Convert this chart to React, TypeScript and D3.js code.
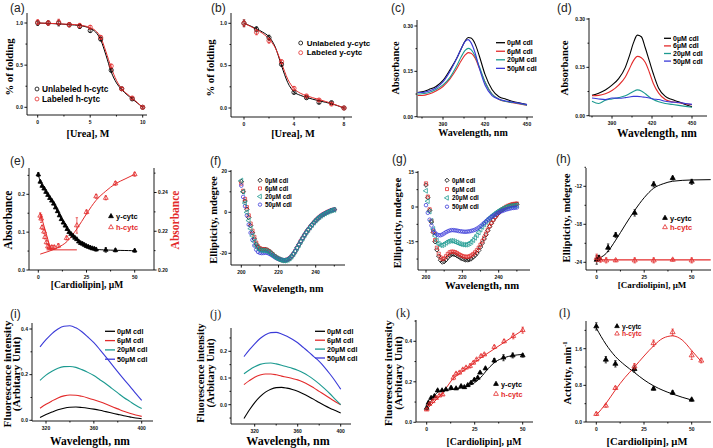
import React from 'react';
import * as d3 from 'd3';

const RED = '#e32b2b';
const TEAL = '#1c9a90';
const BLUE = '#3a3ad8';
const BLK = '#000000';
const SERIF = "'Liberation Serif','Times New Roman',serif";
const SANS = "'Liberation Sans',Arial,sans-serif";

// ---------- (a) h-cytc urea denaturation
const ureaA = [0, 1, 2, 3, 4, 5, 6, 7, 8, 9, 10];
const unlabeledHcytc = [1.0, 1.0, 1.0, 0.98, 0.96, 0.91, 0.81, 0.44, 0.22, 0.1, 0.0];
const labeledHcytc = [1.01, 1.0, 1.01, 0.98, 0.97, 0.95, 0.83, 0.49, 0.22, 0.11, 0.0];
const errA = [0.03, 0.025, 0.035, 0.025, 0.025, 0.02, 0.02, 0.02, 0.015, 0.015, 0.01];
const fitUreaA = [0, 1, 2, 3, 4, 5, 5.5, 6, 6.5, 7, 7.5, 8, 8.5, 9, 9.5, 10];
const fitUnlabeledA = [1.0, 0.995, 0.99, 0.98, 0.97, 0.935, 0.895, 0.8, 0.62, 0.42, 0.29, 0.21, 0.15, 0.1, 0.05, 0.0];
const fitLabeledA = [1.0, 0.997, 0.99, 0.985, 0.975, 0.945, 0.91, 0.83, 0.66, 0.47, 0.32, 0.22, 0.16, 0.11, 0.055, 0.0];

// ---------- (b) y-cytc urea denaturation
const ureaB = [0, 1, 2, 3, 4, 5, 6, 7, 8];
const unlabeledYcytc = [1.0, 0.93, 0.83, 0.516, 0.185, 0.122, 0.067, 0.063, 0.0];
const labeledYcytc = [1.0, 0.894, 0.795, 0.547, 0.232, 0.142, 0.094, 0.047, 0.0];
const errB = [0.04, 0.03, 0.03, 0.02, 0.02, 0.015, 0.015, 0.015, 0.01];
const fitUreaB = [0, 0.5, 1, 1.5, 2, 2.5, 3, 3.5, 4, 4.5, 5, 6, 7, 8];
const fitUnlabeledB = [1.0, 0.97, 0.935, 0.895, 0.84, 0.72, 0.5, 0.3, 0.19, 0.15, 0.125, 0.085, 0.05, 0.0];
const fitLabeledB = [1.0, 0.965, 0.925, 0.88, 0.815, 0.71, 0.53, 0.34, 0.23, 0.175, 0.145, 0.1, 0.055, 0.0];

// ---------- (c) Soret absorbance, y-cytc
const wlC = [372, 375, 380, 385, 390, 395, 400, 403, 406, 408, 410, 413, 416, 420, 425, 430, 435, 440, 445, 450];
const absC0 = [0.08, 0.082, 0.09, 0.1, 0.12, 0.155, 0.195, 0.225, 0.252, 0.262, 0.26, 0.24, 0.2, 0.14, 0.09, 0.066, 0.058, 0.05, 0.045, 0.04];
const absC6 = [0.07, 0.07, 0.075, 0.085, 0.1, 0.125, 0.16, 0.185, 0.205, 0.212, 0.21, 0.193, 0.16, 0.115, 0.075, 0.057, 0.05, 0.046, 0.042, 0.038];
const absC20 = [0.075, 0.076, 0.08, 0.09, 0.105, 0.13, 0.17, 0.198, 0.22, 0.226, 0.222, 0.2, 0.165, 0.115, 0.075, 0.058, 0.05, 0.047, 0.043, 0.038];
const absC50 = [0.08, 0.08, 0.085, 0.095, 0.115, 0.15, 0.195, 0.225, 0.25, 0.255, 0.245, 0.21, 0.16, 0.105, 0.07, 0.058, 0.052, 0.048, 0.044, 0.04];

// ---------- (d) Soret absorbance, h-cytc
const wlD = [375, 380, 385, 390, 395, 400, 403, 406, 409, 412, 415, 418, 421, 425, 430, 435, 440, 445, 450];
const absD0 = [0.063, 0.07, 0.08, 0.095, 0.115, 0.15, 0.185, 0.225, 0.25, 0.245, 0.21, 0.17, 0.13, 0.085, 0.06, 0.05, 0.043, 0.035, 0.028];
const absD6 = [0.062, 0.063, 0.068, 0.078, 0.095, 0.12, 0.145, 0.17, 0.184, 0.18, 0.165, 0.135, 0.1, 0.07, 0.05, 0.043, 0.04, 0.037, 0.034];
const absD20 = [0.045, 0.038, 0.048, 0.052, 0.056, 0.062, 0.068, 0.075, 0.08, 0.077, 0.068, 0.058, 0.05, 0.043, 0.038, 0.035, 0.032, 0.029, 0.026];
const absD50 = [0.055, 0.052, 0.05, 0.055, 0.054, 0.056, 0.058, 0.06, 0.06, 0.059, 0.057, 0.055, 0.052, 0.05, 0.045, 0.042, 0.041, 0.038, 0.035];

// ---------- (e) absorbance vs cardiolipin
const concYE = [0, 1, 2, 3, 4, 5, 6, 7, 8, 9, 10, 11, 12, 13, 14, 15, 16, 17, 18, 19, 20, 21, 22, 23, 24, 25, 26, 27, 28, 29, 30, 35, 40, 50];
const absYE = [0.252, 0.233, 0.222, 0.215, 0.206, 0.198, 0.19, 0.183, 0.175, 0.165, 0.155, 0.144, 0.134, 0.125, 0.117, 0.108, 0.1, 0.095, 0.09, 0.085, 0.081, 0.075, 0.071, 0.069, 0.066, 0.063, 0.061, 0.059, 0.057, 0.056, 0.054, 0.053, 0.052, 0.051];
const errYE = [0.005, 0.003, 0.003, 0.003, 0.003, 0.003, 0.003, 0.003, 0.003, 0.003, 0.003, 0.003, 0.003, 0.003, 0.003, 0.003, 0.003, 0.003, 0.003, 0.003, 0.003, 0.003, 0.003, 0.003, 0.003, 0.003, 0.003, 0.003, 0.003, 0.003, 0.004, 0.006, 0.004, 0.004];
const concHE = [1, 1.5, 2, 3, 3.5, 4.3, 5, 5.7, 7, 8.3, 10.4, 14.7, 20, 25, 30, 35, 40, 50];
const absHE = [0.228, 0.2265, 0.222, 0.2198, 0.217, 0.2143, 0.2122, 0.2117, 0.2117, 0.2117, 0.2125, 0.2165, 0.223, 0.2299, 0.238, 0.2372, 0.2447, 0.2494];
const errHE = [0.0015, 0.002, 0.001, 0.001, 0.001, 0.001, 0.001, 0.001, 0.001, 0.001, 0.001, 0.001, 0.004, 0.001, 0.001, 0.001, 0.001, 0.001];
const dropLineX = [1, 6.5];
const dropLineY = [0.2295, 0.2104];
const flatLineX = [4.3, 20];
const flatLineY = [0.2104, 0.2104];
const fitHEx = [1, 5, 10, 15, 20, 25, 30, 35, 40, 45, 50];
const fitHEy = [0.2082, 0.2095, 0.2115, 0.2148, 0.2212, 0.229, 0.236, 0.2407, 0.2445, 0.247, 0.2494];

// ---------- (f) far-UV CD, y-cytc (200..250 nm, 1 nm)
const wlF = d3.range(200, 251);
const cdF0 = [15, 10, 5.5, 1.5, -2.5, -6.5, -10, -13, -15.5, -17, -17.8, -18.1, -18.1, -18.1, -18.4, -19, -19.8, -20.6, -21.4, -22.1, -22.6, -23, -23.3, -23.4, -23.3, -23, -22.4, -21.5, -20.3, -18.9, -17.3, -15.7, -14.1, -12.6, -11.1, -9.7, -8.4, -7.2, -6.1, -5, -4, -3.1, -2.3, -1.6, -1, -0.5, 0, 0.4, 0.8, 1.1, 1.3];
const cdF6 = [14, 10.5, 6.5, 2.5, -1.5, -5.5, -9, -12, -14.8, -16.6, -17.5, -17.9, -18, -18.1, -18.4, -19, -19.8, -20.6, -21.4, -22.1, -22.6, -23, -23.3, -23.4, -23.3, -23, -22.4, -21.5, -20.3, -18.9, -17.3, -15.7, -14.1, -12.6, -11.1, -9.7, -8.4, -7.2, -6.1, -5, -4, -3.1, -2.3, -1.6, -1, -0.5, 0, 0.4, 0.8, 1.1, 1.3];
const cdF20 = [15.5, 10, 4.5, 0, -4, -8, -11.5, -14.3, -16.3, -17.6, -18.3, -18.6, -18.6, -18.7, -19, -19.5, -20.2, -21, -21.7, -22.3, -22.8, -23.2, -23.5, -23.6, -23.5, -23.2, -22.6, -21.7, -20.5, -19.1, -17.5, -15.9, -14.3, -12.8, -11.3, -9.9, -8.6, -7.4, -6.2, -5.1, -4.1, -3.2, -2.4, -1.7, -1.1, -0.6, -0.1, 0.3, 0.7, 1.0, 1.2];
const cdF50 = [13, 7.5, 3, -1.5, -6, -10, -13.5, -16.2, -18.2, -19.3, -19.8, -19.9, -19.8, -19.7, -19.8, -20.2, -20.7, -21.3, -21.9, -22.4, -22.8, -23.1, -23.3, -23.4, -23.3, -23, -22.4, -21.5, -20.3, -18.9, -17.3, -15.7, -14.1, -12.6, -11.1, -9.7, -8.4, -7.2, -6.1, -5, -4, -3.1, -2.3, -1.6, -1, -0.5, 0, 0.4, 0.8, 1.1, 1.3];

// ---------- (g) far-UV CD, h-cytc
const wlG = d3.range(200, 251);
const cdG0 = [9.5, 4, -1.5, -6.5, -11, -15, -18.5, -21.2, -23, -23.8, -23.6, -22.8, -21.8, -21, -20.5, -20.4, -20.6, -21, -21.5, -22, -22.4, -22.7, -22.9, -22.9, -22.7, -22.3, -21.6, -20.9, -20, -18.8, -17.3, -15.6, -13.8, -12, -10.2, -8.5, -7, -5.6, -4.4, -3.4, -2.5, -1.8, -1.2, -0.7, -0.2, 0.2, 0.5, 0.8, 1.0, 1.1, 1.2];
const cdG6 = [10.2, 4.5, -1, -6, -10.5, -14.3, -17.6, -20.2, -21.8, -22.5, -22.2, -21.3, -20.3, -19.6, -19.3, -19.3, -19.5, -19.9, -20.4, -20.8, -21.2, -21.4, -21.5, -21.5, -21.3, -20.9, -20.3, -19.6, -18.7, -17.6, -16.3, -14.8, -13.2, -11.5, -9.8, -8.2, -6.8, -5.5, -4.3, -3.3, -2.4, -1.6, -1, -0.4, 0.1, 0.5, 0.8, 1.1, 1.3, 1.4, 1.5];
const cdG20 = [7, 2.5, -2, -6, -9.5, -12.5, -14.6, -15.9, -16.5, -16.5, -16.1, -15.5, -15, -14.7, -14.6, -14.7, -15, -15.3, -15.7, -16, -16.2, -16.3, -16.3, -16.1, -15.7, -15.1, -14.3, -13.3, -12.2, -11, -9.8, -8.6, -7.5, -6.5, -5.6, -4.8, -4.1, -3.4, -2.8, -2.2, -1.7, -1.2, -0.8, -0.4, -0.1, 0.2, 0.4, 0.5, 0.6, 0.7, 0.7];
const cdG50 = [0.8, -2.5, -5.5, -8, -10, -11.2, -11.9, -12.2, -12.2, -11.9, -11.4, -10.9, -10.5, -10.2, -10, -10, -10.1, -10.2, -10.4, -10.5, -10.6, -10.7, -10.7, -10.6, -10.5, -10.3, -10.1, -9.8, -9.4, -8.9, -8.3, -7.6, -6.9, -6.2, -5.5, -4.9, -4.3, -3.8, -3.3, -2.8, -2.4, -2, -1.7, -1.4, -1.1, -0.9, -0.7, -0.5, -0.4, -0.3, -0.2];

// ---------- (h) ellipticity at 222 nm vs cardiolipin
const concYH = [0, 1.2, 6, 10, 20, 30, 40, 50];
const ellYH = [-23.6, -23.3, -21.7, -19.7, -16.2, -11.7, -10.7, -11.3];
const errYH = [0.7, 0.4, 0.6, 0.4, 0.5, 0.4, 0.3, 0.4];
const concHH = [0, 2, 5, 10, 20, 30, 40, 50];
const ellHH = [-23.3, -23.6, -23.7, -23.7, -23.7, -23.7, -23.6, -23.7];
const errHH = [0.6, 0.4, 0.4, 0.2, 0.4, 0.4, 0.2, 0.4];
const fitYHx = [0, 5, 10, 15, 20, 25, 30, 35, 40, 50, 60];
const fitYHy = [-23.5, -22.6, -20.5, -18.1, -15.8, -13.8, -12.3, -11.6, -11.2, -11.0, -10.95];
const fitHHx = [0, 60];
const fitHHy = [-23.62, -23.62];

// ---------- (i) Trp fluorescence, y-cytc
const wlI = [315, 320, 325, 330, 335, 340, 345, 350, 355, 360, 365, 370, 375, 380, 385, 390, 395, 400];
const flI0 = [0.012, 0.025, 0.036, 0.046, 0.053, 0.057, 0.058, 0.056, 0.053, 0.049, 0.044, 0.038, 0.032, 0.026, 0.02, 0.015, 0.01, 0.007];
const flI6 = [0.053, 0.07, 0.085, 0.098, 0.107, 0.111, 0.11, 0.105, 0.098, 0.09, 0.081, 0.071, 0.06, 0.05, 0.04, 0.031, 0.023, 0.017];
const flI20 = [0.175, 0.198, 0.215, 0.228, 0.235, 0.236, 0.232, 0.222, 0.21, 0.196, 0.178, 0.16, 0.14, 0.12, 0.1, 0.083, 0.066, 0.052];
const flI50 = [0.322, 0.353, 0.38, 0.4, 0.412, 0.414, 0.405, 0.388, 0.365, 0.34, 0.31, 0.278, 0.245, 0.212, 0.18, 0.15, 0.118, 0.087];

// ---------- (j) Trp fluorescence, h-cytc
const wlJ = [310, 315, 320, 325, 330, 335, 340, 345, 350, 355, 360, 365, 370, 375, 380, 385, 390, 395, 400];
const flJ0 = [-0.052, -0.02, 0.008, 0.03, 0.047, 0.058, 0.064, 0.065, 0.062, 0.057, 0.05, 0.041, 0.031, 0.02, 0.008, -0.003, -0.013, -0.022, -0.031];
const flJ6 = [0.075, 0.09, 0.103, 0.111, 0.115, 0.115, 0.112, 0.107, 0.103, 0.098, 0.093, 0.085, 0.075, 0.063, 0.05, 0.037, 0.024, 0.011, 0.0];
const flJ20 = [0.116, 0.13, 0.142, 0.151, 0.155, 0.156, 0.153, 0.148, 0.142, 0.136, 0.129, 0.12, 0.108, 0.094, 0.078, 0.06, 0.041, 0.02, 0.0];
const flJ50 = [0.18, 0.205, 0.228, 0.248, 0.262, 0.27, 0.271, 0.265, 0.256, 0.245, 0.232, 0.215, 0.198, 0.18, 0.162, 0.14, 0.115, 0.088, 0.058];

// ---------- (k) fluorescence vs cardiolipin
const concYK = [0, 0.9, 2.3, 4, 5.7, 8, 10, 12.7, 15.3, 17.9, 19.6, 21.4, 23.1, 24.8, 26.6, 27.8, 30.6, 35.2, 40, 44.8, 50];
const fluYK = [0.071, 0.096, 0.12, 0.129, 0.157, 0.157, 0.162, 0.17, 0.167, 0.178, 0.173, 0.183, 0.195, 0.21, 0.22, 0.245, 0.266, 0.305, 0.319, 0.33, 0.33];
const errYK = [0.01, 0.008, 0.005, 0.005, 0.005, 0.005, 0.005, 0.005, 0.005, 0.005, 0.005, 0.005, 0.005, 0.005, 0.005, 0.005, 0.006, 0.01, 0.015, 0.012, 0.008];
const concHK = [0, 1.4, 3.1, 4.9, 6.6, 8.3, 13.9, 15.3, 17, 18.8, 20.5, 22.6, 24.3, 26, 28.3, 30, 35.2, 40.3, 45.1, 50];
const fluHK = [0.063, 0.09, 0.104, 0.12, 0.132, 0.137, 0.22, 0.24, 0.245, 0.26, 0.27, 0.278, 0.294, 0.31, 0.327, 0.335, 0.372, 0.4, 0.426, 0.455];
const errHK = [0.005, 0.005, 0.005, 0.005, 0.005, 0.005, 0.01, 0.006, 0.006, 0.006, 0.006, 0.01, 0.006, 0.006, 0.006, 0.006, 0.008, 0.008, 0.014, 0.015];
const fitYKx = [0, 2, 4, 6, 8, 12, 16, 20, 24, 28, 32, 36, 40, 45, 50];
const fitYKy = [0.068, 0.1, 0.13, 0.15, 0.155, 0.16, 0.166, 0.175, 0.19, 0.22, 0.265, 0.3, 0.318, 0.33, 0.335];
const fitHKx = [0, 8, 13.5, 30, 50];
const fitHKy = [0.064, 0.14, 0.215, 0.33, 0.455];

// ---------- (l) peroxidase activity vs cardiolipin
const concYL = [0, 5, 10, 20, 30, 40, 50];
const actYL = [2.087, 1.36, 1.27, 1.156, 0.727, 0.64, 0.487];
const errYL = [0.08, 0.07, 0.07, 0.07, 0.03, 0.04, 0.03];
const concHL = [0, 5, 10, 20, 30, 40, 50, 55];
const actHL = [0.175, 0.356, 0.742, 1.215, 1.72, 1.96, 1.455, 1.34];
const errHL = [0.03, 0.03, 0.03, 0.06, 0.07, 0.07, 0.09, 0.05];
const fitYLx = [0, 5, 10, 15, 20, 25, 30, 35, 40, 45, 50];
const fitYLy = [2.05, 1.7, 1.43, 1.24, 1.08, 0.92, 0.79, 0.69, 0.61, 0.54, 0.48];
const fitHLx = [0, 5, 10, 15, 20, 25, 30, 35, 40, 45, 50, 55];
const fitHLy = [0.15, 0.4, 0.7, 0.97, 1.2, 1.44, 1.66, 1.83, 1.88, 1.79, 1.56, 1.32];

const cdlLabels = ['0\u00b5M cdl', '6\u00b5M cdl', '20\u00b5M cdl', '50\u00b5M cdl'];
const cdlColors = [BLK, RED, TEAL, BLUE];

// ---------------------------------------------------------------- helpers
type Ax = { px: [number, number]; v: [number, number]; at: [number, number]; ticks: number[]; minor: number[]; dec: number };
const sc = (a: Ax) => d3.scaleLinear().domain(a.v).range(a.at);

function Frame({ xa, ya, ya2 }: { xa: Ax; ya: Ax; ya2?: Ax }) {
  const x = sc(xa), y = sc(ya);
  const xl = xa.px[0], xr = xa.px[1], yt = ya.px[0], yb = ya.px[1];
  const st = { stroke: '#000', strokeWidth: 0.9 };
  const tf = { fontSize: 5, fontWeight: 'bold' as const, fontFamily: SANS, fill: '#111' };
  const y2 = ya2 ? sc(ya2) : null;
  return (
    <g>
      <line x1={xl} x2={xr} y1={yb} y2={yb} {...st} />
      <line x1={xl} x2={xl} y1={yt} y2={yb} {...st} />
      {xa.ticks.map(t => <line key={'xt' + t} x1={x(t)} x2={x(t)} y1={yb} y2={yb + 2.6} {...st} />)}
      {xa.minor.map(t => <line key={'xm' + t} x1={x(t)} x2={x(t)} y1={yb} y2={yb + 1.5} {...st} />)}
      {xa.ticks.map(t => <text key={'xl' + t} x={x(t)} y={yb + 8.8} textAnchor="middle" {...tf}>{t.toFixed(xa.dec)}</text>)}
      {ya.ticks.map(t => <line key={'yt' + t} x1={xl - 2.6} x2={xl} y1={y(t)} y2={y(t)} {...st} />)}
      {ya.minor.map(t => <line key={'ym' + t} x1={xl - 1.5} x2={xl} y1={y(t)} y2={y(t)} {...st} />)}
      {ya.ticks.map(t => <text key={'yl' + t} x={xl - 4} y={y(t) + 1.8} textAnchor="end" {...tf}>{t.toFixed(ya.dec)}</text>)}
      {ya2 && y2 && (
        <g>
          <line x1={xr} x2={xr} y1={ya2.px[0]} y2={ya2.px[1]} {...st} />
          {ya2.ticks.map(t => <line key={'y2t' + t} x1={xr} x2={xr + 2.6} y1={y2(t)} y2={y2(t)} {...st} />)}
          {ya2.minor.map(t => <line key={'y2m' + t} x1={xr} x2={xr + 1.5} y1={y2(t)} y2={y2(t)} {...st} />)}
          {ya2.ticks.map(t => <text key={'y2l' + t} x={xr + 4} y={y2(t) + 1.8} textAnchor="start" {...tf}>{t.toFixed(ya2.dec)}</text>)}
        </g>
      )}
    </g>
  );
}

type Shape = 'circle' | 'tri' | 'square' | 'diamond' | 'left';
function symPath(shape: Shape, size: number) {
  const t = shape === 'circle' ? d3.symbolCircle : (shape === 'square' || shape === 'diamond') ? d3.symbolSquare : d3.symbolTriangle;
  return d3.symbol().type(t).size(size)() || '';
}
function Sym({ shape, cx, cy, color, filled, size = 12, sw = 0.8 }: any) {
  const rot = shape === 'diamond' ? 45 : shape === 'left' ? -90 : 0;
  return <path d={symPath(shape, size)} transform={`translate(${cx},${cy}) rotate(${rot})`} fill={filled ? color : 'none'} stroke={color} strokeWidth={sw} />;
}

function Points({ xs, ys, x, y, shape, color, filled, size, sw, err }: any) {
  return (
    <g>
      {xs.map((v: number, i: number) => (
        <g key={i}>
          {err && (
            <g stroke={color} strokeWidth={0.7}>
              <line x1={x(v)} x2={x(v)} y1={y(ys[i] - err[i])} y2={y(ys[i] + err[i])} />
              <line x1={x(v) - 1.2} x2={x(v) + 1.2} y1={y(ys[i] - err[i])} y2={y(ys[i] - err[i])} />
              <line x1={x(v) - 1.2} x2={x(v) + 1.2} y1={y(ys[i] + err[i])} y2={y(ys[i] + err[i])} />
            </g>
          )}
          <Sym shape={shape} cx={x(v)} cy={y(ys[i])} color={color} filled={filled} size={size} sw={sw} />
        </g>
      ))}
    </g>
  );
}

function Curve({ xs, ys, x, y, color, w = 1, curve = d3.curveMonotoneX }: any) {
  const g = d3.line<number>().x((d) => x(d)).y((_, i) => y(ys[i])).curve(curve);
  return <path d={g(xs) || ''} fill="none" stroke={color} strokeWidth={w} />;
}

function XTitle({ x, y, text, fs = 10.5 }: any) {
  return <text x={x} y={y} textAnchor="middle" dominantBaseline="central" fontFamily={SERIF} fontWeight="bold" fontSize={fs}>{text}</text>;
}
function YTitle({ x, y, text, fs = 10.5, color = '#000' }: any) {
  return <text transform={`translate(${x},${y}) rotate(-90)`} textAnchor="middle" dominantBaseline="central" fontFamily={SERIF} fontWeight="bold" fontSize={fs} fill={color}>{text}</text>;
}
function PLabel({ x, y, text, serif = false }: any) {
  return <text x={x} y={y} fontFamily={serif ? SERIF : SANS} fontSize={12} fill="#222">{text}</text>;
}
function LegSym({ x, y, shape, color, filled, text, fs = 7.5, tcolor = '#000', size = 12, gap = 5 }: any) {
  return (
    <g>
      <Sym shape={shape} cx={x} cy={y} color={color} filled={filled} size={size} />
      <text x={x + gap} y={y} dominantBaseline="central" fontFamily={SANS} fontWeight="bold" fontSize={fs} fill={tcolor}>{text}</text>
    </g>
  );
}
function LegLine({ x1, x2, y, color, text, fs = 7 }: any) {
  return (
    <g>
      <line x1={x1} x2={x2} y1={y} y2={y} stroke={color} strokeWidth={1.3} />
      <text x={x2 + 2} y={y} dominantBaseline="central" fontFamily={SANS} fontWeight="bold" fontSize={fs}>{text}</text>
    </g>
  );
}

// ---------------------------------------------------------------- axes
const AXA_X: Ax = { px: [27, 147], v: [0, 10], at: [37.7, 142.7], ticks: [0, 5, 10], minor: [2.5, 7.5], dec: 0 };
const AXA_Y: Ax = { px: [13, 115], v: [0, 1], at: [107.3, 23], ticks: [0, 0.5, 1], minor: [0.25, 0.75], dec: 1 };
const AXB_X: Ax = { px: [231, 352], v: [0, 8], at: [244, 344], ticks: [0, 4, 8], minor: [2, 6], dec: 0 };
const AXB_Y: Ax = { px: [13, 117], v: [0, 1], at: [108, 23.3], ticks: [0, 0.5, 1], minor: [0.25, 0.75], dec: 1 };
const AXC_X: Ax = { px: [417, 533], v: [390, 450], at: [443, 527], ticks: [390, 420, 450], minor: [375, 405, 435], dec: 0 };
const AXC_Y: Ax = { px: [20, 117], v: [0, 0.3], at: [116.7, 26], ticks: [0, 0.15, 0.3], minor: [0.075, 0.225], dec: 2 };
const AXD_X: Ax = { px: [589, 707], v: [390, 450], at: [612, 692], ticks: [390, 420, 450], minor: [375, 405, 435], dec: 0 };
const AXD_Y: Ax = { px: [18, 116], v: [0, 0.3], at: [115.7, 19], ticks: [0, 0.15, 0.3], minor: [0.075, 0.225], dec: 2 };
const AXE_X: Ax = { px: [29, 154], v: [0, 50], at: [38.3, 134.7], ticks: [0, 25, 50], minor: [12.5, 37.5], dec: 0 };
const AXE_Y: Ax = { px: [168, 270], v: [0, 0.2], at: [270, 194.3], ticks: [0, 0.1, 0.2], minor: [0.05, 0.15, 0.25], dec: 1 };
const AXE_Y2: Ax = { px: [168, 270], v: [0.2, 0.24], at: [270, 192.5], ticks: [0.2, 0.22, 0.24], minor: [0.21, 0.23, 0.25], dec: 2 };
const AXF_X: Ax = { px: [231, 345], v: [200, 240], at: [241.3, 315.7], ticks: [200, 220, 240], minor: [210, 230, 250], dec: 0 };
const AXF_Y: Ax = { px: [170, 265], v: [-20, 20], at: [253.3, 171.3], ticks: [-20, 0, 20], minor: [-10, 10], dec: 0 };
const AXG_X: Ax = { px: [418, 530], v: [200, 240], at: [426, 498.7], ticks: [200, 220, 240], minor: [210, 230, 250], dec: 0 };
const AXG_Y: Ax = { px: [171, 270], v: [-15, 15], at: [241.7, 172.3], ticks: [-15, 0, 15], minor: [-22.5, -7.5, 7.5], dec: 0 };
const AXH_X: Ax = { px: [586, 711], v: [0, 50], at: [596.7, 691.7], ticks: [0, 25, 50], minor: [12.5, 37.5], dec: 0 };
const AXH_Y: Ax = { px: [168, 270], v: [-24, -12], at: [262.3, 186.3], ticks: [-24, -18, -12], minor: [-21, -15, -9], dec: 0 };
const AXI_X: Ax = { px: [32, 153], v: [320, 400], at: [46, 141.7], ticks: [320, 360, 400], minor: [340, 380], dec: 0 };
const AXI_Y: Ax = { px: [323, 421], v: [0, 0.4], at: [420.3, 329], ticks: [0, 0.2, 0.4], minor: [0.1, 0.3], dec: 1 };
const AXJ_X: Ax = { px: [231, 351], v: [320, 400], at: [254.7, 340.7], ticks: [320, 360, 400], minor: [340, 380], dec: 0 };
const AXJ_Y: Ax = { px: [328, 424], v: [0, 0.2], at: [404.7, 351.3], ticks: [0, 0.1, 0.2], minor: [-0.05, 0.05, 0.15, 0.25], dec: 1 };
const AXK_X: Ax = { px: [416, 533], v: [0, 50], at: [426.7, 522.7], ticks: [0, 25, 50], minor: [12.5, 37.5], dec: 0 };
const AXK_Y: Ax = { px: [320, 422], v: [0, 0.4], at: [422.3, 341.3], ticks: [0, 0.2, 0.4], minor: [0.1, 0.3, 0.5], dec: 1 };
const AXL_X: Ax = { px: [586, 711], v: [0, 50], at: [596.3, 691.7], ticks: [0, 25, 50], minor: [12.5, 37.5], dec: 0 };
const AXL_Y: Ax = { px: [321, 422], v: [0, 1.6], at: [422, 348.7], ticks: [0, 0.8, 1.6], minor: [0.4, 1.2, 2.0], dec: 1 };

export default function App() {
  const xa = sc(AXA_X), ya = sc(AXA_Y);
  const xb = sc(AXB_X), yb = sc(AXB_Y);
  const xc = sc(AXC_X), yc = sc(AXC_Y);
  const xd = sc(AXD_X), yd = sc(AXD_Y);
  const xe = sc(AXE_X), ye = sc(AXE_Y), ye2 = sc(AXE_Y2);
  const xf = sc(AXF_X), yf = sc(AXF_Y);
  const xg = sc(AXG_X), yg = sc(AXG_Y);
  const xh = sc(AXH_X), yh = sc(AXH_Y);
  const xi = sc(AXI_X), yi = sc(AXI_Y);
  const xj = sc(AXJ_X), yj = sc(AXJ_Y);
  const xk = sc(AXK_X), yk = sc(AXK_Y);
  const xl = sc(AXL_X), yl = sc(AXL_Y);
  const specC = [absC0, absC6, absC20, absC50];
  const specD = [absD0, absD6, absD20, absD50];
  const specI = [flI0, flI6, flI20, flI50];
  const specJ = [flJ0, flJ6, flJ20, flJ50];
  const cdShapes: Shape[] = ['diamond', 'square', 'left', 'circle'];

  return (
    <svg width={713} height={448} style={{ position: 'absolute', left: 0, top: 0, background: '#fff' }}>
      <rect width={713} height={448} fill="#fff" />

      {/* (a) */}
      <PLabel x={10} y={12} text="(a)" />
      <Frame xa={AXA_X} ya={AXA_Y} />
      <Curve xs={fitUreaA} ys={fitUnlabeledA} x={xa} y={ya} color={BLK} />
      <Curve xs={fitUreaA} ys={fitLabeledA} x={xa} y={ya} color={RED} />
      <Points xs={ureaA} ys={unlabeledHcytc} x={xa} y={ya} shape="circle" color={BLK} size={14} err={errA} />
      <Points xs={ureaA} ys={labeledHcytc} x={xa} y={ya} shape="circle" color={RED} size={14} err={errA} />
      <LegSym x={37} y={89} shape="circle" color={BLK} size={12} text="Unlabeled h-cytc" fs={8.3} />
      <LegSym x={37} y={99} shape="circle" color={RED} size={12} text="Labeled h-cytc" fs={8.3} />
      <XTitle x={88} y={133} text="[Urea], M" fs={10.2} />
      <YTitle x={9} y={67} text="% of folding" fs={10.7} />

      {/* (b) */}
      <PLabel x={211} y={12} text="(b)" />
      <Frame xa={AXB_X} ya={AXB_Y} />
      <Curve xs={fitUreaB} ys={fitUnlabeledB} x={xb} y={yb} color={BLK} />
      <Curve xs={fitUreaB} ys={fitLabeledB} x={xb} y={yb} color={RED} />
      <Points xs={ureaB} ys={unlabeledYcytc} x={xb} y={yb} shape="circle" color={BLK} size={14} err={errB} />
      <Points xs={ureaB} ys={labeledYcytc} x={xb} y={yb} shape="circle" color={RED} size={14} err={errB} />
      <LegSym x={300.7} y={43} shape="circle" color={BLK} size={12} text="Unlabeled y-cytc" fs={8} gap={6} />
      <LegSym x={300.7} y={52.7} shape="circle" color={RED} size={12} text="Labeled y-cytc" fs={8} gap={6} />
      <XTitle x={293} y={133} text="[Urea], M" fs={10.4} />
      <YTitle x={210} y={68} text="% of folding" fs={10.7} />

      {/* (c) */}
      <PLabel x={391} y={12} text="(c)" />
      <Frame xa={AXC_X} ya={AXC_Y} />
      {specC.map((s, i) => <Curve key={i} xs={wlC} ys={s} x={xc} y={yc} color={cdlColors[i]} w={1.1} />)}
      {cdlLabels.map((t, i) => <LegLine key={i} x1={496} x2={505} y={42.7 + i * 8.55} color={cdlColors[i]} text={t} fs={7} />)}
      <XTitle x={473} y={132} text="Wavelength, nm" fs={10} />
      <YTitle x={395} y={68} text="Absorbance" fs={10.4} />

      {/* (d) */}
      <PLabel x={557} y={12} text="(d)" />
      <Frame xa={AXD_X} ya={AXD_Y} />
      {specD.map((s, i) => <Curve key={i} xs={wlD} ys={s} x={xd} y={yd} color={cdlColors[i]} w={1.1} />)}
      {cdlLabels.map((t, i) => <LegLine key={i} x1={664} x2={671} y={38.3 + i * 7.6} color={cdlColors[i]} text={t} fs={7} />)}
      <XTitle x={657} y={133} text="Wavelength, nm" fs={11.5} />
      <YTitle x={564} y={68} text="Absorbance" fs={10.8} />

      {/* (e) */}
      <PLabel x={10} y={165} text="(e)" />
      <Frame xa={AXE_X} ya={AXE_Y} ya2={AXE_Y2} />
      <Curve xs={concYE} ys={absYE} x={xe} y={ye} color={BLK} curve={d3.curveBasis} />
      <Curve xs={dropLineX} ys={dropLineY} x={xe} y={ye2} color={RED} curve={d3.curveLinear} />
      <Curve xs={flatLineX} ys={flatLineY} x={xe} y={ye2} color={RED} curve={d3.curveLinear} />
      <Curve xs={fitHEx} ys={fitHEy} x={xe} y={ye2} color={RED} />
      <Points xs={concYE} ys={absYE} x={xe} y={ye} shape="tri" color={BLK} filled size={9} err={errYE} />
      <Points xs={concHE} ys={absHE} x={xe} y={ye2} shape="tri" color={RED} size={10} err={errHE} />
      <LegSym x={111} y={216.3} shape="tri" color={BLK} filled size={10} text="y-cytc" fs={7.5} />
      <LegSym x={111} y={227.3} shape="tri" color={RED} size={10} text="h-cytc" fs={7.5} tcolor={RED} />
      <XTitle x={87} y={285} text="[Cardiolipin], µM" fs={9.5} />
      <YTitle x={8} y={220} text="Absorbance" fs={11.5} />
      <YTitle x={175} y={220} text="Absorbance" color={RED} fs={11.5} />

      {/* (f) */}
      <PLabel x={210} y={165} text="(f)" />
      <Frame xa={AXF_X} ya={AXF_Y} />
      {[cdF0, cdF6, cdF50, cdF20].map((s, k) => {
        const idx = [0, 1, 3, 2][k];
        return <Points key={k} xs={wlF} ys={s} x={xf} y={yf} shape={cdShapes[idx]} color={cdlColors[idx]} size={10} sw={0.75} />;
      })}
      {cdlLabels.map((t, i) => <LegSym key={i} x={260} y={180.3 + i * 8.1} shape={cdShapes[i]} color={cdlColors[i]} size={9} text={t} fs={6.3} />)}
      <XTitle x={288} y={288} text="Wavelength, nm" fs={10.2} />
      <YTitle x={213} y={220} text="Ellipticity, mdegree" fs={10.5} />

      {/* (g) */}
      <PLabel x={392} y={163} text="(g)" />
      <Frame xa={AXG_X} ya={AXG_Y} />
      {[cdG0, cdG6, cdG20, cdG50].map((s, i) => <Points key={i} xs={wlG} ys={s} x={xg} y={yg} shape={cdShapes[i]} color={cdlColors[i]} size={10} sw={0.75} />)}
      {cdlLabels.map((t, i) => <LegSym key={i} x={447} y={180.3 + i * 8.8} shape={cdShapes[i]} color={cdlColors[i]} size={9} text={t} fs={6.3} />)}
      <XTitle x={482} y={285} text="Wavelength, nm" fs={10.7} />
      <YTitle x={397} y={223} text="Ellipticity, mdegree" fs={10.9} />

      {/* (h) */}
      <PLabel x={556} y={163} text="(h)" />
      <Frame xa={AXH_X} ya={AXH_Y} />
      <Curve xs={fitYHx} ys={fitYHy} x={xh} y={yh} color={BLK} />
      <Curve xs={fitHHx} ys={fitHHy} x={xh} y={yh} color={RED} w={1.2} curve={d3.curveLinear} />
      <Points xs={concYH} ys={ellYH} x={xh} y={yh} shape="tri" color={BLK} filled size={11} err={errYH} />
      <Points xs={concHH} ys={ellHH} x={xh} y={yh} shape="tri" color={RED} size={11} err={errHH} />
      <LegSym x={665} y={218} shape="tri" color={BLK} filled size={10} text="y-cytc" fs={7.5} />
      <LegSym x={665} y={227.3} shape="tri" color={RED} size={10} text="h-cytc" fs={7.5} tcolor={RED} />
      <XTitle x={652} y={285} text="[Cardiolipin], µM" fs={9} />
      <YTitle x={566} y={218} text="Ellipticity, mdegree" fs={10.7} />

      {/* (i) */}
      <PLabel x={10} y={318} text="(i)" />
      <Frame xa={AXI_X} ya={AXI_Y} />
      {specI.map((s, i) => <Curve key={i} xs={wlI} ys={s} x={xi} y={yi} color={cdlColors[i]} w={1.1} />)}
      {cdlLabels.map((t, i) => <LegLine key={i} x1={105} x2={115} y={331.3 + i * 9.3} color={cdlColors[i]} text={t} fs={7.2} />)}
      <XTitle x={90} y={441} text="Wavelength, nm" fs={11.5} />
      <YTitle x={6.5} y={374} text="Fluorescence intensity" fs={11.3} />
      <YTitle x={16} y={374} text="(Arbitary Unit)" fs={11.3} />

      {/* (j) */}
      <PLabel x={210} y={318} text="(j)" serif />
      <Frame xa={AXJ_X} ya={AXJ_Y} />
      {specJ.map((s, i) => <Curve key={i} xs={wlJ} ys={s} x={xj} y={yj} color={cdlColors[i]} w={1.1} />)}
      {cdlLabels.map((t, i) => <LegLine key={i} x1={315} x2={325} y={331.3 + i * 8.9} color={cdlColors[i]} text={t} fs={7.2} />)}
      <XTitle x={288} y={441} text="Wavelength, nm" fs={12} />
      <YTitle x={200} y={373} text="Fluorescence intensity" fs={10.5} />
      <YTitle x={210} y={373} text="(Arbitary Unit)" fs={10.5} />

      {/* (k) */}
      <PLabel x={396} y={317} text="(k)" serif />
      <Frame xa={AXK_X} ya={AXK_Y} />
      <Curve xs={fitYKx} ys={fitYKy} x={xk} y={yk} color={BLK} />
      <Curve xs={fitHKx} ys={fitHKy} x={xk} y={yk} color={RED} curve={d3.curveLinear} />
      <Points xs={concYK} ys={fluYK} x={xk} y={yk} shape="tri" color={BLK} filled size={10} err={errYK} />
      <Points xs={concHK} ys={fluHK} x={xk} y={yk} shape="tri" color={RED} size={10} err={errHK} />
      <LegSym x={496} y={384} shape="tri" color={BLK} filled size={10} text="y-cytc" fs={7.3} />
      <LegSym x={496} y={394} shape="tri" color={RED} size={10} text="h-cytc" fs={7.3} tcolor={RED} />
      <XTitle x={484} y={441} text="[Cardiolipin], µM" fs={9.8} />
      <YTitle x={388} y={373} text="Fluorescence intensity" fs={11.2} />
      <YTitle x={398} y={373} text="(Arbitary Unit)" fs={11.2} />

      {/* (l) */}
      <PLabel x={559} y={317} text="(l)" serif />
      <Frame xa={AXL_X} ya={AXL_Y} />
      <Curve xs={fitYLx} ys={fitYLy} x={xl} y={yl} color={BLK} />
      <Curve xs={fitHLx} ys={fitHLy} x={xl} y={yl} color={RED} />
      <Points xs={concYL} ys={actYL} x={xl} y={yl} shape="tri" color={BLK} filled size={11} err={errYL} />
      <Points xs={concHL} ys={actHL} x={xl} y={yl} shape="tri" color={RED} size={11} err={errHL} />
      <LegSym x={617} y={326.3} shape="tri" color={BLK} filled size={9} text="y-cytc" fs={6.7} />
      <LegSym x={617} y={333.7} shape="tri" color={RED} size={9} text="h-cytc" fs={6.7} tcolor={RED} />
      <XTitle x={647} y={441} text="[Cardiolipin], µM" fs={10.6} />
      <text transform="translate(567,373) rotate(-90)" textAnchor="middle" dominantBaseline="central" fontFamily={SERIF} fontWeight="bold" fontSize={10.5}>
        Activity, min<tspan dy={-3.5} fontSize={6.5}>-1</tspan>
      </text>
    </svg>
  );
}
